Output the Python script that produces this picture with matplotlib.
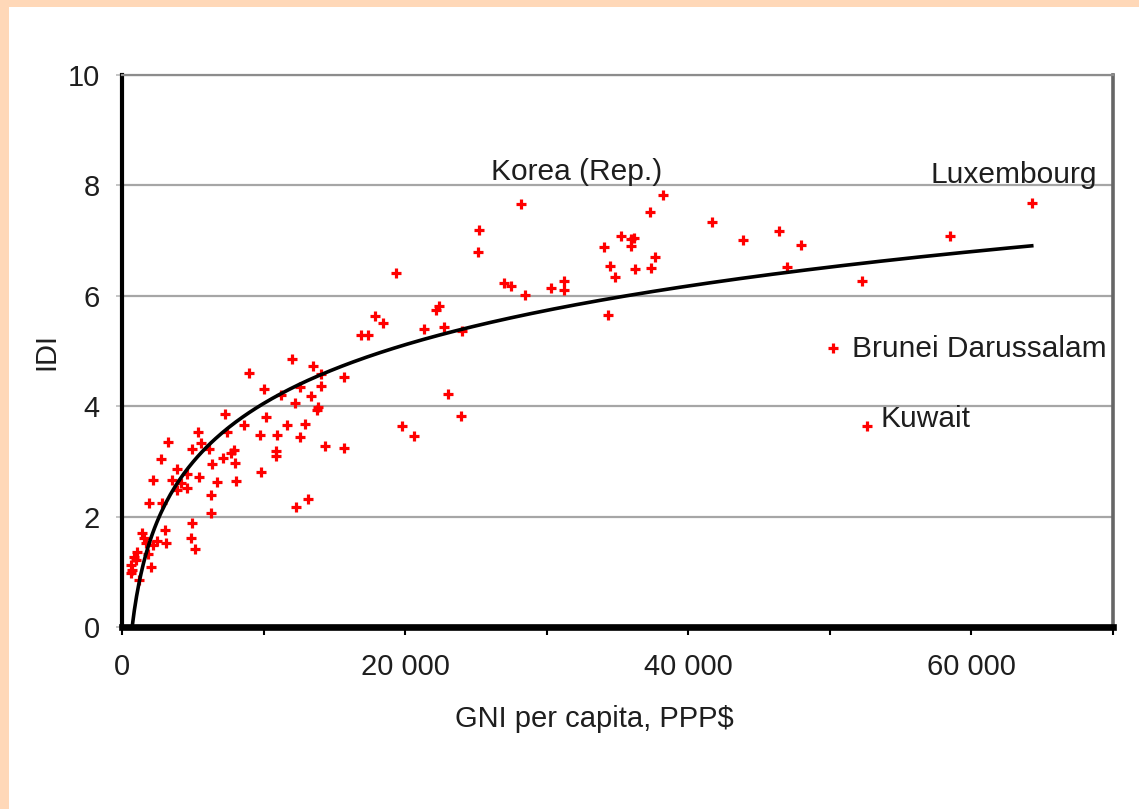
import numpy as np
import matplotlib
matplotlib.use('Agg')
from matplotlib import pyplot as plt
from matplotlib.patches import Rectangle
from matplotlib.ticker import FixedLocator, FuncFormatter

# %% Data.
gni = [64260, 46440, 47970, 46940, 58470, 52280, 43900, 50210, 52630,
       38230, 37280, 41690, 28150, 25250, 25130, 35260, 35920, 36160,
       35970, 34080, 37680, 34460, 36230, 37380, 34790, 26970, 27510,
       28500, 30270, 31210, 31210, 34310, 22380, 22150, 21300, 22780,
       24030, 19320, 17840, 18430, 16850, 17370,
       11980, 13510, 14030, 15670, 10020, 12560, 14030, 11200, 13320,
       12190, 13790, 13860, 23020, 23960, 10140, 11670, 12900, 19790,
       20660, 9740, 10970, 12540, 14310, 15670, 10850, 10900, 9790,
       13130, 12310, 8960, 7300,
       5350, 3240, 4920, 5550, 6140, 2770, 3900, 4610, 5430, 2180,
       3550, 4190, 3900, 4610, 6380, 7150, 7900, 7950, 6730, 8020,
       8610, 7440, 7670, 6260, 1900, 2800, 6300, 4960, 4850, 5130,
       3030, 1430, 2490, 3080, 2210, 1080, 960, 2020, 730, 1190,
       1550, 610, 840, 1830, 1670, 660]
idi = [7.68, 7.17, 6.92, 6.52, 7.09, 6.27, 7.01, 5.05, 3.64,
       7.83, 7.51, 7.34, 7.66, 7.20, 6.79, 7.08, 7.02, 7.04,
       6.91, 6.88, 6.70, 6.54, 6.48, 6.51, 6.34, 6.24, 6.18,
       6.01, 6.15, 6.27, 6.10, 5.66, 5.82, 5.75, 5.39, 5.44,
       5.37, 6.41, 5.63, 5.51, 5.29, 5.29,
       4.86, 4.73, 4.58, 4.52, 4.32, 4.34, 4.37, 4.20, 4.19,
       4.05, 3.93, 3.99, 4.22, 3.83, 3.81, 3.66, 3.67, 3.64,
       3.46, 3.48, 3.47, 3.45, 3.27, 3.24, 3.18, 3.09, 2.80,
       2.31, 2.17, 4.60, 3.85,
       3.53, 3.36, 3.22, 3.34, 3.22, 3.04, 2.87, 2.78, 2.72, 2.66,
       2.66, 2.60, 2.48, 2.51, 2.95, 3.06, 3.21, 2.97, 2.63, 2.65,
       3.66, 3.54, 3.15, 2.39, 2.24, 2.24, 2.06, 1.89, 1.62, 1.41,
       1.76, 1.70, 1.55, 1.52, 1.48, 1.36, 1.21, 1.09, 1.03, 0.85,
       1.61, 1.12, 1.27, 1.33, 1.52, 0.97]

labels = ['Korea (Rep.)', 'Luxembourg', 'Brunei Darussalam', 'Kuwait']
label_x = [26030, 57100, 51530, 53570]
label_y = [8.24, 8.19, 5.04, 3.77]

x_ticks = [0, 20000, 40000, 60000]
x_minor = [10000, 30000, 50000, 70000]
y_ticks = [0, 2, 4, 6, 8, 10]

# %% Logarithmic trend line (least squares on ln x, like Excel).
gni = np.array(gni, dtype=float)
idi = np.array(idi)
a, b = np.polyfit(np.log(gni), idi, 1)
xt = np.linspace(gni.min() + 100, gni.max(), 400)
yt = a * np.log(xt) + b

# %% Figure.
plt.rcParams['font.family'] = ['Liberation Sans', 'DejaVu Sans']
W, H = 1139, 809
fig = plt.figure(figsize=(W / 100, H / 100), dpi=100, facecolor='#FFD8B8')
fig.patches.append(Rectangle((9 / W, 0), 1, (H - 7) / H, transform=fig.transFigure,
                             facecolor='white', edgecolor='none', zorder=-10))
ax = fig.add_axes([122 / W, (H - 627) / H, 991 / W, 552 / H])
ax.set_facecolor('white')

# Grid:
for v in y_ticks[1:]:
    ax.axhline(v, color='#a6a6a6', lw=1.6, zorder=1)

# Points and trend:
ax.scatter(gni, idi, marker='+', s=42, linewidths=2.3, color='#ff0000', zorder=3)
ax.plot(xt, yt, color='black', lw=2.6, zorder=4, clip_on=False)

# Labels:
for t, x, y in zip(labels, label_x, label_y):
    ax.text(x, y, t, fontsize=21.5, color='#1e1e1e', ha='left', va='center', zorder=5)

# Axes:
ax.set_xlim(0, 70000)
ax.set_ylim(0, 10)
ax.xaxis.set_major_locator(FixedLocator(x_ticks))
ax.xaxis.set_minor_locator(FixedLocator(x_minor))
ax.xaxis.set_major_formatter(FuncFormatter(lambda v, p: '{:,.0f}'.format(v).replace(',', ' ')))
ax.yaxis.set_major_locator(FixedLocator(y_ticks))
ax.tick_params(axis='x', which='both', direction='out', length=6, width=1.5,
               color='black', pad=13, labelsize=21, labelcolor='#1e1e1e')
ax.tick_params(axis='y', direction='out', length=4, width=1.2, color='#bbbbbb',
               pad=12, labelsize=21, labelcolor='#1e1e1e')

ax.spines['left'].set_linewidth(3)
ax.spines['left'].set_color('black')
ax.spines['bottom'].set_linewidth(4.8)
ax.spines['bottom'].set_color('black')
ax.spines['right'].set_linewidth(2.6)
ax.spines['right'].set_color('#666666')
ax.spines['top'].set_linewidth(1.6)
ax.spines['top'].set_color('#8c8c8c')

ax.set_xlabel('GNI per capita, PPP$', fontsize=21, color='#1e1e1e')
ax.set_ylabel('IDI', fontsize=21, color='#1e1e1e')
ax.xaxis.set_label_coords(0.477, -0.142)
ax.yaxis.set_label_coords(-0.062, 0.50)

fig.savefig('out.png', dpi=100, facecolor=fig.get_facecolor())
